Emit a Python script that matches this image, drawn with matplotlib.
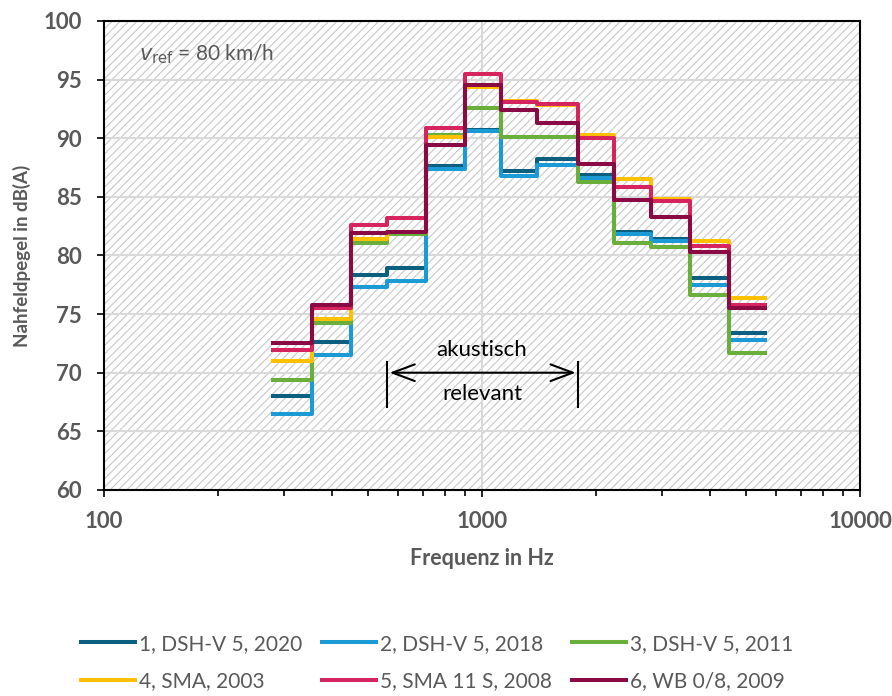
import matplotlib.pyplot as plt
from matplotlib.patches import Rectangle

plt.rcParams['font.family'] = ['Lato', 'DejaVu Sans']
plt.rcParams['hatch.linewidth'] = 0.8
plt.rcParams['hatch.color'] = '#c8c8c8'

GRAU = '#595959'

# Terzband-Grenzen (Hz) und Pegel je Band (315 Hz ... 5000 Hz)
bandgrenzen = [280, 355, 450, 560, 710, 900, 1120, 1400, 1800, 2240, 2800, 3550, 4500, 5600]

pegel_1 = [68.0, 72.6, 78.3, 78.9, 87.6, 90.7, 87.2, 88.2, 86.9, 82.0, 81.4, 78.1, 73.4]
pegel_2 = [66.5, 71.5, 77.3, 77.8, 87.4, 90.6, 86.8, 87.7, 86.6, 81.8, 81.2, 77.5, 72.8]
pegel_3 = [69.4, 74.2, 81.1, 81.8, 90.3, 92.6, 90.1, 90.1, 86.3, 81.1, 80.7, 76.6, 71.7]
pegel_4 = [71.0, 74.6, 81.4, 82.0, 90.1, 94.4, 93.2, 92.8, 90.3, 86.5, 84.8, 81.2, 76.4]
pegel_5 = [71.9, 75.5, 82.6, 83.2, 90.9, 95.5, 93.1, 92.9, 90.0, 85.8, 84.6, 80.8, 75.8]
pegel_6 = [72.5, 75.8, 81.9, 82.0, 89.4, 94.5, 92.4, 91.3, 87.8, 84.7, 83.3, 80.3, 75.5]

serien = [
    ('1, DSH-V 5, 2020', pegel_1, '#0d5f80'),
    ('2, DSH-V 5, 2018', pegel_2, '#1b9ad6'),
    ('3, DSH-V 5, 2011', pegel_3, '#6aae3c'),
    ('4, SMA, 2003', pegel_4, '#ffc000'),
    ('5, SMA 11 S, 2008', pegel_5, '#d6245e'),
    ('6, WB 0/8, 2009', pegel_6, '#8a0a44'),
]

fig = plt.figure(figsize=(8.92, 6.96), dpi=100)
ax = fig.add_axes([0.1166, 0.296, 0.8475, 0.674])

# schraffierter Hintergrund
ax.add_patch(Rectangle((0, 0), 1, 1, transform=ax.transAxes, facecolor='white',
                       edgecolor='#c8c8c8', hatch='////', lw=0, zorder=0))

linien = []
for name, werte, farbe in serien:
    l, = ax.step(bandgrenzen, werte + [werte[-1]], where='post', color=farbe, lw=2.9,
                 label=name, zorder=3)
    linien.append(l)

ax.set_xscale('log')
ax.set_xlim(100, 10000)
ax.set_ylim(60, 100)
ax.set_yticks(range(60, 101, 5))
ax.set_xticks([100, 1000, 10000])
ax.set_xticklabels(['100', '1000', '10000'])
ax.grid(True, which='major', color='#d9d9d9', lw=1.5, zorder=1)
ax.set_axisbelow(True)

ax.tick_params(axis='both', which='major', direction='out', length=5, width=1.2,
               colors='black', labelcolor=GRAU, labelsize=16)
ax.tick_params(axis='y', which='major', pad=11)
ax.tick_params(axis='x', which='major', pad=10)
ax.tick_params(axis='x', which='minor', direction='out', length=4, width=1.2)
for lbl in ax.get_xticklabels() + ax.get_yticklabels():
    lbl.set_fontweight('bold')
for sp in ax.spines.values():
    sp.set_linewidth(1.5)
    sp.set_color('black')

ax.set_xlabel('Frequenz in Hz', fontsize=15.5, fontweight='bold', color=GRAU, labelpad=12)
ax.set_ylabel('Nahfeldpegel in dB(A)', fontsize=13.5, fontweight='bold', color=GRAU, labelpad=9)

ax.text(124, 97.2, r'$v$$_{\mathrm{ref}}$ = 80 km/h', fontsize=15, color=GRAU, va='center')

# akustisch relevanter Bereich
ax.annotate('', xy=(560, 70), xytext=(1800, 70),
            arrowprops=dict(arrowstyle='<->,head_length=1.6,head_width=0.6', lw=1.5, color='black'),
            zorder=4)
ax.plot([560, 560], [67.1, 70.9], color='black', lw=1.5, zorder=4)
ax.plot([1800, 1800], [67.1, 70.9], color='black', lw=1.5, zorder=4)
ax.text(1000, 71.9, 'akustisch', ha='center', va='center', fontsize=16, color='black')
ax.text(1000, 68.2, 'relevant', ha='center', va='center', fontsize=16, color='black')

# Legende zeilenweise (1 2 3 / 4 5 6)
reihenfolge = [0, 3, 1, 4, 2, 5]
fig.legend([linien[i] for i in reihenfolge], [serien[i][0] for i in reihenfolge],
           loc='center', bbox_to_anchor=(0.49, 0.048), ncol=3, frameon=False,
           fontsize=15, handlelength=2.6, handletextpad=0.2, columnspacing=0.95,
           labelcolor=GRAU, borderpad=0.0, labelspacing=0.85)

fig.savefig('out.png', dpi=100)
